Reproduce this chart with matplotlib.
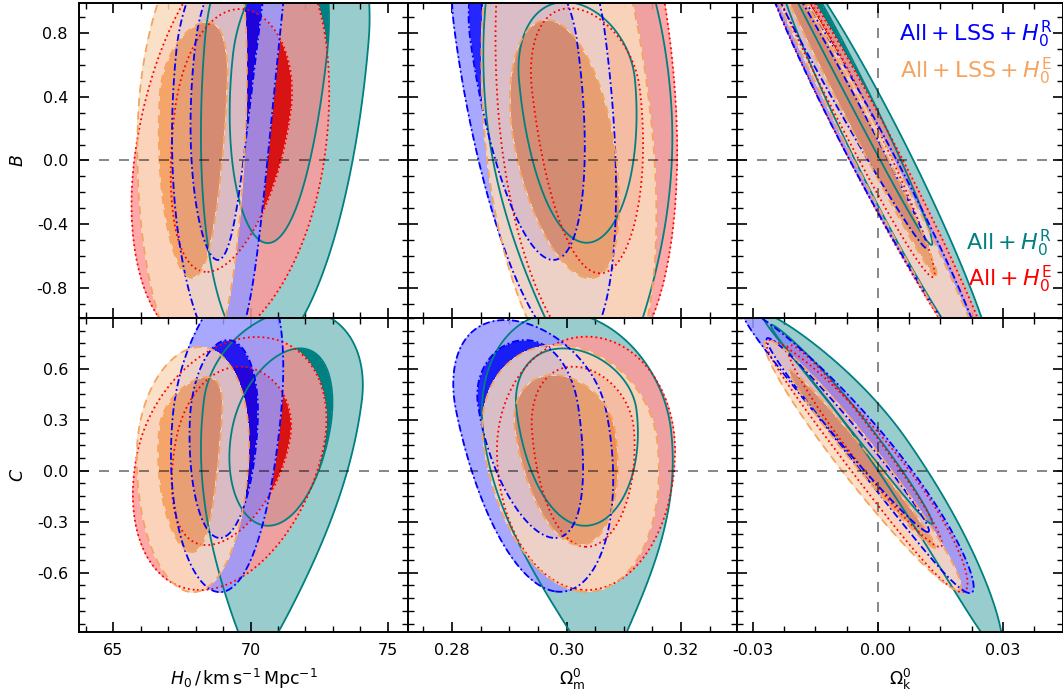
import numpy as np
import matplotlib
matplotlib.use('Agg')
import matplotlib.pyplot as plt
from matplotlib.colors import to_rgb
from matplotlib.ticker import MultipleLocator, FixedLocator, FuncFormatter

plt.rcParams['font.family'] = 'DejaVu Sans'
plt.rcParams['mathtext.fontset'] = 'dejavusans'
plt.rcParams['axes.unicode_minus'] = False

# each contour: x_top, y_top, x_bottom, y_bottom, x_mid, y_mid, half_width, tail
# (top / bottom extreme points, centre of the widest horizontal chord and its half width)
# per data set: [1 sigma, 2 sigma]
H0_B = {
    'teal':   [[71.80, 1.320, 70.63, -0.518, 71.07, 0.662, 1.709, 0], [71.76, 1.697, 70.38, -1.220, 71.32, 0.756, 2.98, 0]],
    'red':    [[69.61, 0.950, 68.41, -0.699, 69.36, 0.317, 2.109, 0], [70.31, 1.383, 68.32, -1.157, 69.25, 0.034, 3.455, 0]],
    'blue':   [[70.28, 1.446, 68.81, -0.624, 69.14, 0.756, 1.127, 0], [70.71, 1.634, 69.04, -1.220, 69.16, 0.693, 1.855, 0]],
    'orange': [[68.41, 0.869, 67.87, -0.737, 67.92, 0.411, 1.22, 0], [68.60, 1.477, 67.98, -1.314, 67.87, 0.254, 1.964, 0]],
}
H0_C = {
    'teal':   [[71.80, 0.721, 70.64, -0.324, 71.105, 0.240, 1.782, 0], [71.80, 0.947, 70.20, -1.115, 71.18, 0.417, 2.873, 0.55]],
    'red':    [[69.61, 0.613, 68.40, -0.438, 69.36, 0.181, 2.073, 0], [70.23, 0.788, 68.16, -0.703, 69.27, 0.122, 3.364, 0]],
    'blue':   [[69.18, 0.770, 68.887, -0.396, 69.03, 0.299, 1.236, 0], [69.98, 1.136, 68.887, -0.715, 69.14, 0.328, 1.964, 0]],
    'orange': [[68.41, 0.552, 67.87, -0.479, 67.80, 0.240, 1.127, 0], [68.16, 0.729, 67.905, -0.715, 67.905, 0.122, 2.036, 0]],
}
OM_B = {
    'teal':   [[0.29973, 0.994, 0.30352, -0.516, 0.30183, 0.505, 0.01013, 0], [0.29886, 1.885, 0.30584, -1.503, 0.30200, 0.379, 0.01624, 0.45]],
    'red':    [[0.30060, 0.955, 0.30584, -0.708, 0.30340, 0.442, 0.00943, 0], [0.30043, 2.261, 0.30672, -1.283, 0.30349, 0.379, 0.01555, 0]],
    'blue':   [[0.29000, 1.358, 0.29769, -0.624, 0.29250, 0.756, 0.00930, 0], [0.29012, 1.760, 0.30113, -1.189, 0.29353, 0.819, 0.0131, 0]],
    'orange': [[0.29653, 0.881, 0.30410, -0.739, 0.29947, 0.128, 0.00873, 0], [0.29676, 2.011, 0.30532, -1.477, 0.30043, 0.128, 0.01467, 0]],
}
OM_C = {
    'teal':   [[0.29943, 0.721, 0.30322, -0.324, 0.30174, 0.358, 0.01048, 0], [0.29886, 0.935, 0.30637, -1.233, 0.30183, 0.240, 0.01642, 0.75]],
    'red':    [[0.30118, 0.613, 0.30352, -0.448, 0.30287, 0.240, 0.00891, 0], [0.30352, 0.790, 0.30352, -0.703, 0.30340, 0.122, 0.01555, 0]],
    'blue':   [[0.29274, 0.770, 0.29798, -0.396, 0.29327, 0.387, 0.00873, 0], [0.28925, 0.888, 0.29886, -0.713, 0.29379, 0.358, 0.0131, 0]],
    'orange': [[0.29769, 0.564, 0.30235, -0.438, 0.29973, 0.240, 0.00873, 0], [0.29828, 0.741, 0.30352, -0.713, 0.30060, 0.181, 0.0152, 0]],
}
OK_B = {
    'teal':   [[-0.03012, 1.634, 0.01289, -0.530, -0.01032, 0.693, 0.0030, 0], [-0.02438, 1.364, 0.02702, -1.358, 0.00150, 0.003, 0.0070, 0]],
    'red':    [[-0.02753, 1.383, 0.0132, -0.731, -0.00888, 0.442, 0.00432, 0], [-0.02882, 1.446, 0.02834, -1.440, -0.00040, 0.003, 0.0064, 0]],
    'blue':   [[-0.03295, 1.571, 0.01169, -0.551, -0.01315, 0.630, 0.00288, 0], [-0.02736, 1.308, 0.0251, -1.302, -0.00113, 0.003, 0.00564, 0]],
    'orange': [[-0.02592, 1.320, 0.01409, -0.731, -0.0072, 0.380, 0.00264, 0], [-0.02911, 1.446, 0.02719, -1.440, -0.00096, 0.003, 0.0048, 0]],
}
OK_C = {
    'teal':   [[-0.02544, 0.859, 0.01289, -0.314, -0.00768, 0.358, 0.00264, 0], [-0.02712, 0.924, 0.02904, -1.056, 0.0010, 0.181, 0.0060, 0]],
    'red':    [[-0.02112, 0.741, 0.01488, -0.449, -0.00432, 0.181, 0.00456, 0], [-0.02592, 0.770, 0.02016, -0.715, 0.0005, 0.004, 0.0070, 0]],
    'blue':   [[-0.0264, 0.782, 0.012, -0.361, -0.00816, 0.240, 0.00336, 0], [-0.03192, 0.947, 0.02208, -0.721, -0.0018, 0.122, 0.00624, 0]],
    'orange': [[-0.02112, 0.594, 0.01368, -0.455, -0.00384, 0.063, 0.00264, 0], [-0.0264, 0.770, 0.0192, -0.703, -0.00456, 0.063, 0.006, 0]],
}

legend_labels = {
    'blue': r'$\mathrm{All}+\mathrm{LSS}+H_0^{\mathrm{R}}$',
    'orange': r'$\mathrm{All}+\mathrm{LSS}+H_0^{\mathrm{E}}$',
    'teal': r'$\mathrm{All}+H_0^{\mathrm{R}}$',
    'red': r'$\mathrm{All}+H_0^{\mathrm{E}}$',
}
x_labels = [r'$H_0\,/\,\mathrm{km\,s^{-1}\,Mpc^{-1}}$', r'$\Omega_{\mathrm{m}}^{0}$', r'$\Omega_{\mathrm{k}}^{0}$']
y_labels = [r'$B$', r'$C$']

x_ticks = [[65, 70, 75], [0.28, 0.30, 0.32], [-0.03, 0.0, 0.03]]
y_ticks = [[-0.8, -0.4, 0.0, 0.4, 0.8], [-0.6, -0.3, 0.0, 0.3, 0.6]]

ORDER = ['teal', 'red', 'blue', 'orange']
COLORS = {'teal': '#008080', 'red': '#ff0000', 'blue': '#0000ff', 'orange': '#f4a460'}
DASHES = {'teal': None, 'red': (0, (1, 1.7)), 'blue': (0, (4, 1.6, 1, 1.6)), 'orange': (0, (4.5, 3))}


def radius(X, Y, shp):
    xt, yt, xb, yb, xm, ym, hw, tail = shp
    s = (xt - xb) / (yt - yb)
    k = xt - xm - s * (yt - ym)
    dy = Y - ym
    t = np.where(dy >= 0, dy / (yt - ym), dy / (ym - yb))
    xc = xm + s * dy + k * t ** 2
    a = hw * np.where(t < 0, np.clip(1 - tail * t ** 2, 0.05, None), 1.0)
    return np.hypot((X - xc) / a, t)


def lighter(c, f=0.6):
    return tuple(np.array(to_rgb(c)) * (1 - f) + f)


def fmt(v, pos, nd):
    if abs(v) < 1e-9:
        v = 0.0
    return f'{v:.{nd}f}'


xlims = [(63.76, 75.73), (0.27231, 0.32978), (-0.0338, 0.04444)]
ylims = [(-0.985, 0.988), (-0.950, 0.903)]
x_minor = [1, 0.005, 0.0075]
x_nd = [0, 2, 2]
y_minor = [0.1, 0.075]

W, H = 1063, 696
cols_px = [(79, 408), (408, 737), (737, 1063)]
rows_px = [(3, 317.5), (317.5, 632)]

fig = plt.figure(figsize=(W / 100, H / 100), dpi=100)

panels = [[H0_B, OM_B, OK_B], [H0_C, OM_C, OK_C]]

for r in range(2):
    for c in range(3):
        data = panels[r][c]
        l, rr = cols_px[c]
        t, b = rows_px[r]
        ax = fig.add_axes([l / W, 1 - b / H, (rr - l) / W, (b - t) / H])
        x0, x1 = xlims[c]
        y0, y1 = ylims[r]
        px, py = 0.05 * (x1 - x0), 0.05 * (y1 - y0)
        X, Y = np.meshgrid(np.linspace(x0 - px, x1 + px, 700), np.linspace(y0 - py, y1 + py, 700))

        fields = {}
        for i, name in enumerate(ORDER):
            r1 = radius(X, Y, data[name][0])
            r2 = radius(X, Y, data[name][1])
            fields[name] = (r1, r2)
            ring = 1 + (r1 - 1) / np.maximum(r1 - r2, 1e-9)
            F = np.where(r1 < 1, r1, np.where(r2 < 1, ring, 2 + (r2 - 1)))
            ax.contourf(X, Y, F, levels=[0, 1, 2], colors=[COLORS[name], lighter(COLORS[name])],
                        alpha=1.0 if i == 0 else 0.85, zorder=1 + i)
        for name in ORDER:
            for fld in fields[name]:
                cs = ax.contour(X, Y, fld, levels=[1], colors=[COLORS[name]], linewidths=1.3, zorder=6)
                if DASHES[name] is not None:
                    cs.set_linestyle(DASHES[name])

        ax.axhline(0, color='k', alpha=0.55, lw=1.2, dashes=(6, 6), zorder=8)
        if c == 2:
            ax.axvline(0, color='k', alpha=0.55, lw=1.2, dashes=(6, 6), zorder=8)

        ax.set_xlim(x0, x1)
        ax.set_ylim(y0, y1)
        ax.xaxis.set_major_locator(FixedLocator(x_ticks[c]))
        ax.xaxis.set_minor_locator(MultipleLocator(x_minor[c]))
        ax.yaxis.set_major_locator(FixedLocator(y_ticks[r]))
        ax.yaxis.set_minor_locator(MultipleLocator(y_minor[r]))
        nd = x_nd[c]
        ax.xaxis.set_major_formatter(FuncFormatter(lambda v, p, nd=nd: fmt(v, p, nd)))
        ax.yaxis.set_major_formatter(FuncFormatter(lambda v, p: fmt(v, p, 1)))
        ax.tick_params(which='both', direction='in', top=True, right=True, labelsize=11.5, pad=8)
        ax.tick_params(which='major', length=7, width=1.2)
        ax.tick_params(which='minor', length=4, width=1.0)
        for sp in ax.spines.values():
            sp.set_linewidth(1.4)
            sp.set_zorder(10)
        if c != 0:
            ax.tick_params(labelleft=False)
        else:
            ax.set_ylabel(y_labels[r], fontsize=12.5, labelpad=7)
        if r == 0:
            ax.tick_params(labelbottom=False)
        else:
            ax.set_xlabel(x_labels[c], fontsize=12.5, labelpad=6)

        if r == 0 and c == 2:
            for name, yy in [('blue', 0.877), ('orange', 0.76), ('teal', 0.2146), ('red', 0.098)]:
                ax.text(0.966, yy, legend_labels[name], color=COLORS[name], fontsize=16,
                        ha='right', va='baseline', transform=ax.transAxes, zorder=12)

fig.savefig('out.png', dpi=100)
